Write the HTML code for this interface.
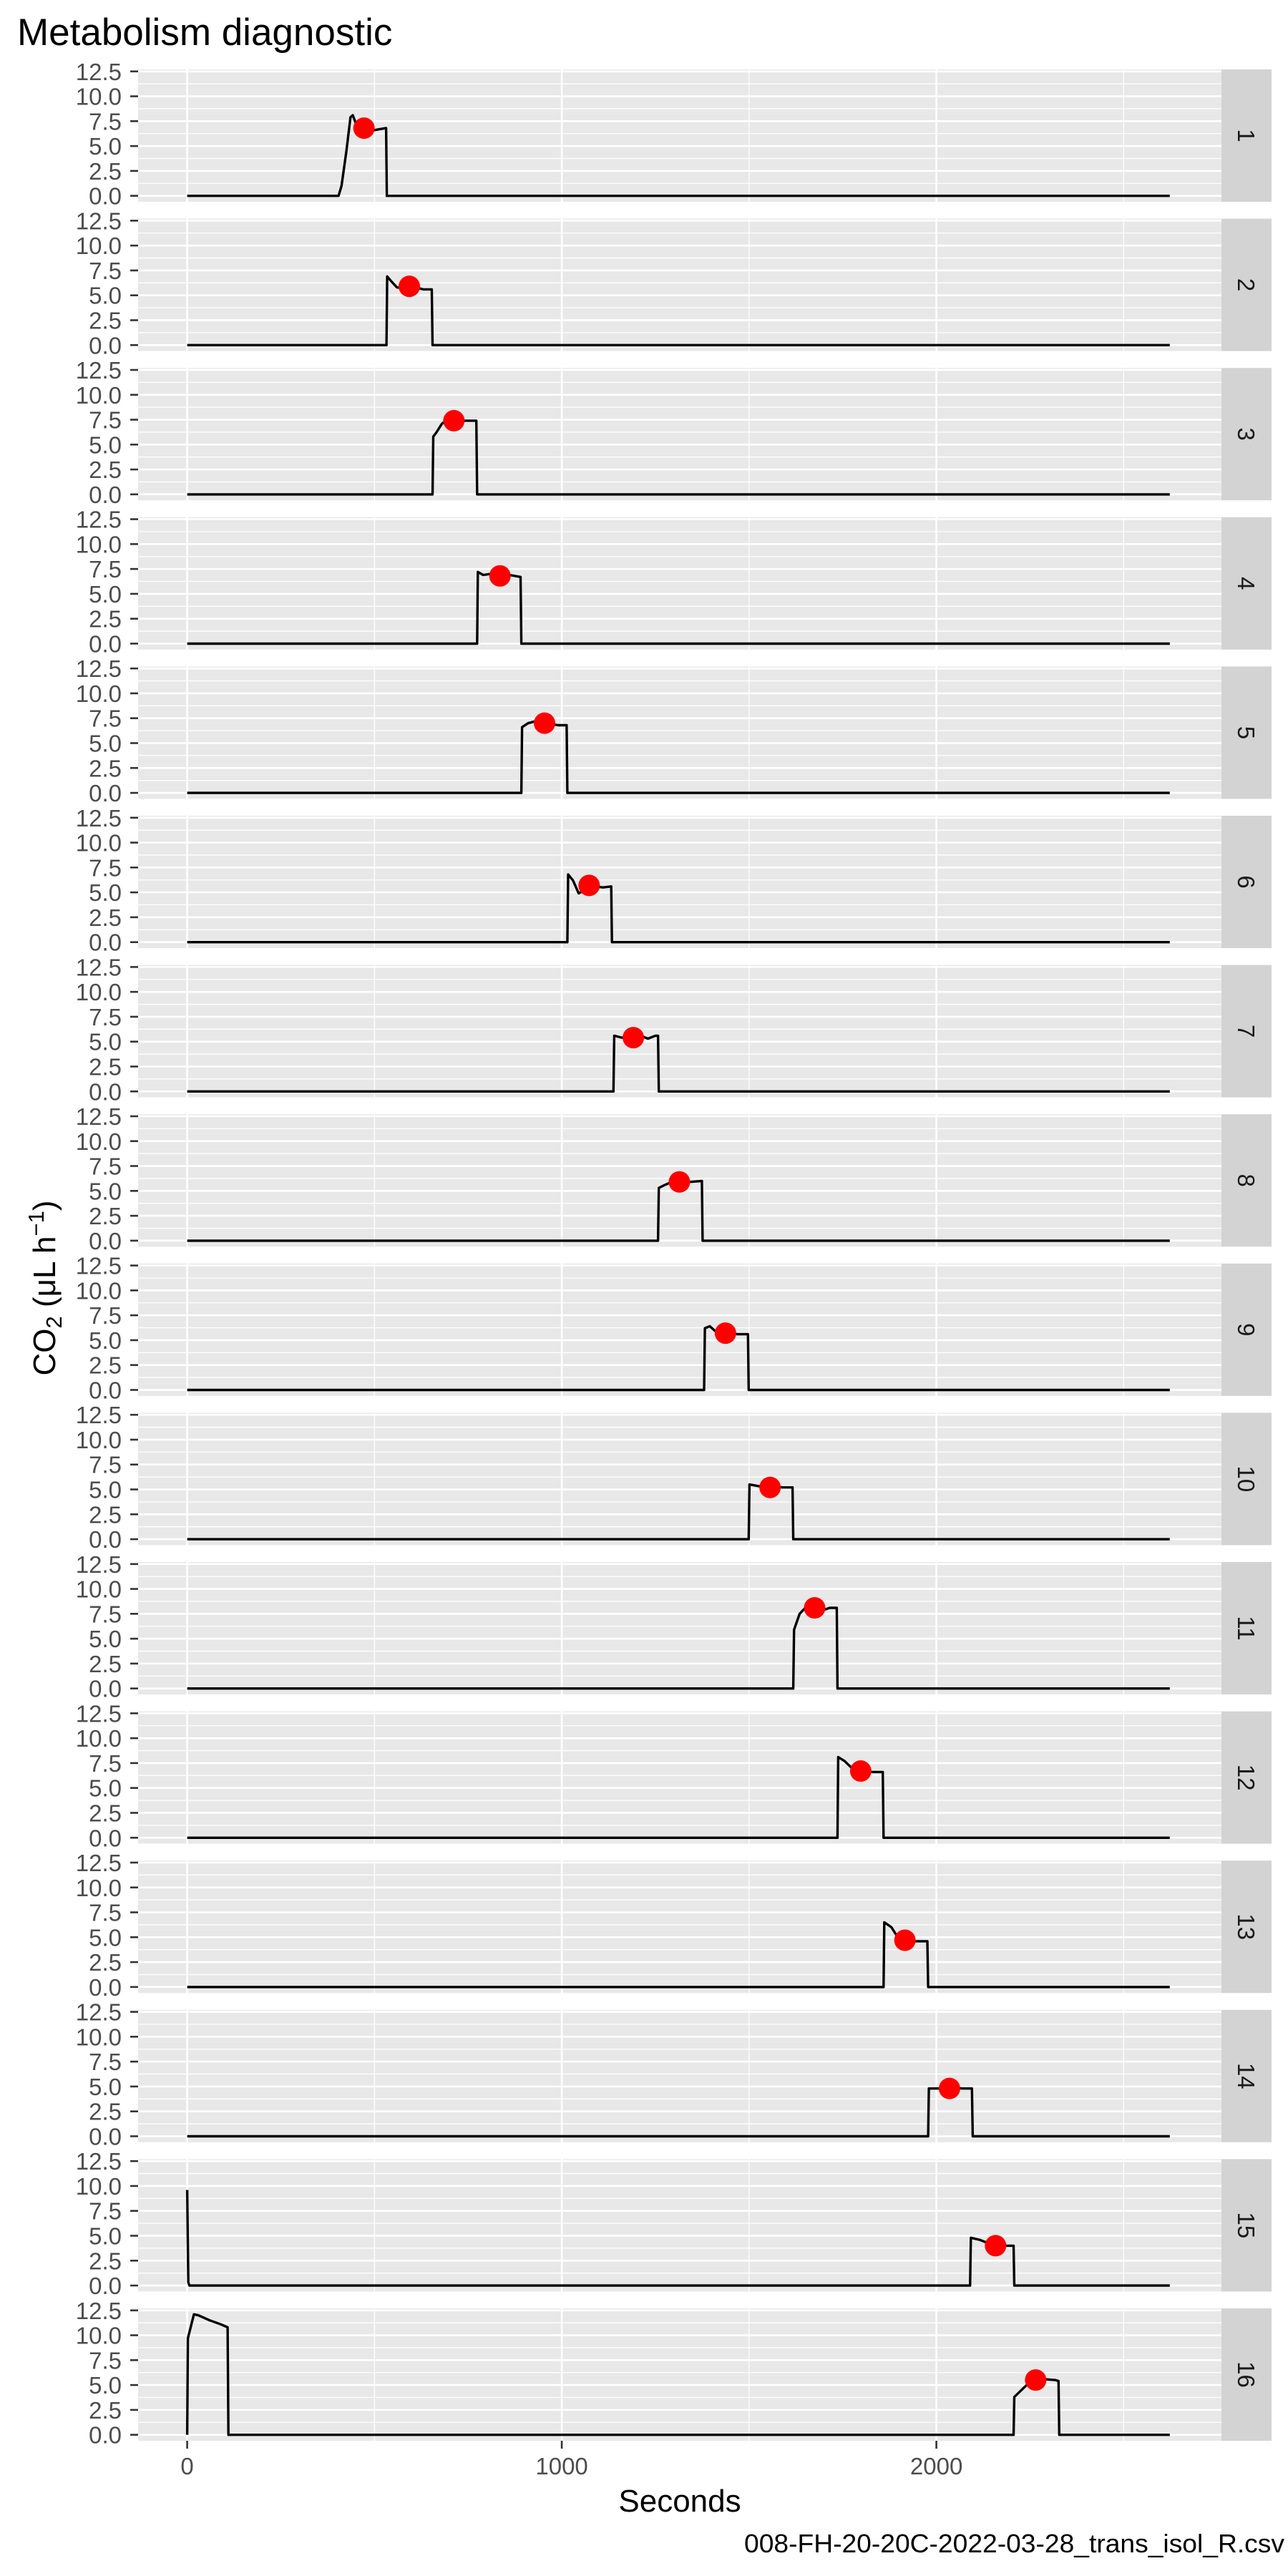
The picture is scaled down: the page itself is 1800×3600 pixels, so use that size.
<!DOCTYPE html>
<html><head><meta charset="utf-8"><title>Metabolism diagnostic</title>
<style>html,body{margin:0;padding:0;background:#fff;}svg{display:block;}</style>
</head><body>
<svg id="chart" width="1800" height="3600" viewBox="0 0 1800 3600" xmlns="http://www.w3.org/2000/svg" font-family="Liberation Sans, Arial, sans-serif">
<rect x="0" y="0" width="1800" height="3600" fill="#fff"/>
<text x="24" y="63" font-size="53" fill="#000">Metabolism diagnostic</text>
<g id="panels"></g>
<text x="950" y="3510" font-size="44" fill="#000" text-anchor="middle">Seconds</text>
<text transform="translate(77,1800) rotate(-90)" font-size="44" fill="#000" text-anchor="middle">CO<tspan font-size="31" dy="9">2</tspan><tspan dy="-9"> (μL h</tspan><tspan font-size="31" dy="-16">−1</tspan><tspan dy="16">)</tspan></text>
<text x="1040" y="3567" font-size="36" fill="#000" textLength="755" lengthAdjust="spacingAndGlyphs">008-FH-20-20C-2022-03-28_trans_isol_R.csv</text>
</svg>
<script>
const panelLabels = ["1","2","3","4","5","6","7","8","9","10","11","12","13","14","15","16"];
const yTickValues = [0, 2.5, 5, 7.5, 10, 12.5];
const yTickLabels = ["0.0","2.5","5.0","7.5","10.0","12.5"];
const xTickValues = [0, 1000, 2000];
const xTickLabels = ["0","1000","2000"];
const xMinorValues = [500, 1500, 2500];
const yMinorValues = [1.25, 3.75, 6.25, 8.75, 11.25];
const seriesT = [
 [0,404,412,425,436,442,450,470,500,530,531,533,2623],
 [0,532,534,545,560,575,590,610,630,653,655,2623],
 [0,655,657,665,680,695,720,772,774,2623],
 [0,774,776,790,810,835,860,890,892,2623],
 [0,892,894,910,930,960,990,1013,1015,2623],
 [0,1015,1017,1030,1045,1060,1090,1110,1132,1134,2623],
 [0,1138,1140,1160,1190,1210,1230,1250,1257,1259,2623],
 [0,1257,1259,1275,1300,1340,1374,1376,2623],
 [0,1380,1382,1395,1410,1440,1470,1497,1499,2623],
 [0,1499,1501,1530,1560,1590,1616,1618,2623],
 [0,1618,1620,1635,1650,1680,1700,1715,1734,1736,2623],
 [0,1736,1738,1755,1780,1810,1830,1857,1859,2623],
 [0,1859,1861,1880,1900,1930,1976,1978,2623],
 [0,1978,1980,2010,2040,2070,2095,2097,2623],
 [0,3,6,2090,2092,2115,2135,2165,2206,2208,2623],
 [0,2,18,30,60,90,108,110,2206,2208,2230,2255,2285,2318,2326,2328,2623]
];
const seriesV = [
 [0,0,1,4.5,7.9,8.1,7.3,6.8,6.6,6.8,6.8,0,0],
 [0,0,6.9,6.4,5.8,5.7,5.9,5.8,5.6,5.6,0,0],
 [0,0,5.8,6.2,7.1,7.5,7.4,7.4,0,0],
 [0,0,7.2,6.9,7.0,6.8,6.9,6.7,0,0],
 [0,0,6.6,7.0,7.2,7.0,6.8,6.8,0,0],
 [0,0,6.8,6.2,4.9,5.2,5.6,5.5,5.6,0,0],
 [0,0,5.6,5.4,5.4,5.6,5.3,5.6,5.6,0,0],
 [0,0,5.3,5.6,6.0,5.9,6.0,0,0],
 [0,0,6.2,6.4,5.9,5.7,5.6,5.6,0,0],
 [0,0,5.5,5.3,5.3,5.2,5.2,0,0],
 [0,0,5.9,7.5,8.1,8.0,7.9,8.1,8.1,0,0],
 [0,0,8.1,7.7,6.8,6.7,6.6,6.6,0,0],
 [0,0,6.5,6.0,4.8,4.6,4.6,0,0],
 [0,0,4.8,4.8,4.9,4.8,4.8,0,0],
 [9.6,0.3,0,0,4.8,4.6,4.3,4.0,4.0,0,0],
 [0,9.7,12.1,12.0,11.5,11.1,10.8,0,0,3.8,4.6,5.5,5.6,5.5,5.4,0,0]
];
const dotT = [472,593,712,835,954,1073,1191,1314,1437,1556,1675,1798,1916,2035,2158,2265];
const dotV = [6.8,5.9,7.4,6.8,7.0,5.7,5.4,5.9,5.7,5.2,8.1,6.7,4.7,4.8,4.0,5.5];

const NS = "http://www.w3.org/2000/svg";
const PL = 193, PR = 1707, PH = 185, TOP0 = 97, PITCH = 208.6;
const XMIN = -131, XMAX = 2761, YMIN = -0.6, YMAX = 12.7;
function xs(v){ return PL + (v - XMIN) / (XMAX - XMIN) * (PR - PL); }
function ys(v, top){ return top + PH - (v - YMIN) / (YMAX - YMIN) * PH; }
function mk(tag, attrs, parent){
  const e = document.createElementNS(NS, tag);
  for (const k in attrs) e.setAttribute(k, attrs[k]);
  parent.appendChild(e); return e;
}
const root = document.getElementById('panels');
panelLabels.forEach((lab, i) => {
  const top = TOP0 + i * PITCH;
  const g = mk('g', {}, root);
  
  
  const bg = mk('rect', {x: PL, y: top, width: PR - PL, height: PH, fill: '#e8e8e8'}, g);
  
  
  yMinorValues.forEach(v => {
    const l = mk('line', {x1: PL, x2: PR, y1: ys(v, top), y2: ys(v, top), stroke: '#fff', 'stroke-width': 1.3}, g);
    
    
  });
  xMinorValues.forEach(v => {
    const l = mk('line', {x1: xs(v), x2: xs(v), y1: top, y2: top + PH, stroke: '#fff', 'stroke-width': 1.3}, g);
    
    
  });
  yTickValues.forEach((v, j) => {
    const y = ys(v, top);
    const l = mk('line', {x1: PL, x2: PR, y1: y, y2: y, stroke: '#fff', 'stroke-width': 2.6}, g);
    
    
    const t = mk('line', {x1: PL - 11, x2: PL, y1: y, y2: y, stroke: '#333', 'stroke-width': 2.6}, g);
    
    
    const tx = mk('text', {x: 170, y: y + 12, 'font-size': 33, fill: '#4d4d4d', 'text-anchor': 'end'}, g);
    tx.textContent = yTickLabels[j];
    
    
  });
  xTickValues.forEach(v => {
    const l = mk('line', {x1: xs(v), x2: xs(v), y1: top, y2: top + PH, stroke: '#fff', 'stroke-width': 2.6}, g);
    
    
  });
  const T = seriesT[i], V = seriesV[i];
  const d = T.map((t, k) => (k ? 'L' : 'M') + xs(t).toFixed(1) + ',' + ys(V[k], top).toFixed(1)).join(' ');
  const p = mk('path', {d: d, fill: 'none', stroke: '#000', 'stroke-width': 3.4, 'stroke-linejoin': 'round'}, g);
  
  
  const c = mk('circle', {cx: xs(dotT[i]), cy: ys(dotV[i], top), r: 15, fill: '#ff0000'}, g);
  
  
  const s = mk('rect', {x: PR, y: top, width: 70, height: PH, fill: '#d3d3d3'}, g);
  
  
  const st = mk('text', {transform: 'translate(' + (PR + 23) + ',' + (top + PH / 2) + ') rotate(90)', 'font-size': 33, fill: '#1a1a1a', 'text-anchor': 'middle'}, g);
  st.textContent = lab;
  
  
});
const lastTop = TOP0 + (panelLabels.length - 1) * PITCH;
xTickValues.forEach((v, j) => {
  const t = mk('line', {x1: xs(v), x2: xs(v), y1: lastTop + PH, y2: lastTop + PH + 11, stroke: '#333', 'stroke-width': 2.6}, root);
  
  
  const tx = mk('text', {x: xs(v), y: 3458, 'font-size': 33, fill: '#4d4d4d', 'text-anchor': 'middle'}, root);
  tx.textContent = xTickLabels[j];
  
  
});
</script>
</body></html>
